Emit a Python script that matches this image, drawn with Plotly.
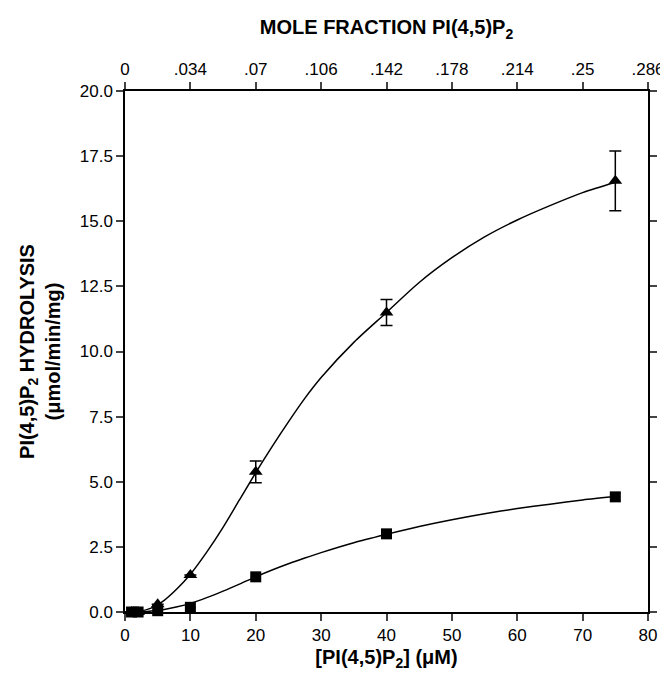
import plotly.graph_objects as go

# Measured data
conc = [1, 2, 5, 10, 20, 40, 75]
tri_vals = [0.0, 0.0, 0.3, 1.42, 5.38, 11.5, 16.55]
tri_err = [0, 0, 0, 0, 0.42, 0.5, 1.15]
sq_vals = [0.0, 0.0, 0.05, 0.18, 1.35, 3.0, 4.42]
sq_err = [0, 0, 0, 0, 0, 0, 0.15]

# Fitted curves
curve_x = [0, 2, 4, 6, 8, 10, 12.5, 15, 17.5, 20, 22.5, 25, 27.5, 30, 35, 40,
           45, 50, 55, 60, 65, 70, 75]
tri_curve = [0.0, 0.02, 0.15, 0.45, 0.9, 1.45, 2.3, 3.25, 4.3, 5.35, 6.35, 7.3,
             8.2, 9.0, 10.35, 11.5, 12.65, 13.6, 14.4, 15.05, 15.6, 16.1, 16.5]
sq_curve = [0.0, 0.0, 0.04, 0.1, 0.2, 0.33, 0.55, 0.8, 1.07, 1.35, 1.61, 1.85,
            2.07, 2.28, 2.66, 2.98, 3.28, 3.54, 3.77, 3.97, 4.14, 4.3, 4.43]

# Axis ticks
x_ticks = [0, 10, 20, 30, 40, 50, 60, 70, 80]
top_ticktext = ["0", ".034", ".07", ".106", ".142", ".178", ".214", ".25", ".286"]
y_ticks = [0, 2.5, 5, 7.5, 10, 12.5, 15, 17.5, 20]
y_ticktext = ["0.0", "2.5", "5.0", "7.5", "10.0", "12.5", "15.0", "17.5", "20.0"]

FONT = "Liberation Sans, Arial, sans-serif"
TICK = 17
TITLE = 20

fig = go.Figure()
fig.add_trace(go.Scatter(x=curve_x, y=tri_curve, mode="lines",
                         line=dict(color="black", width=1.5, shape="spline", smoothing=0.8),
                         showlegend=False, cliponaxis=False))
fig.add_trace(go.Scatter(x=curve_x, y=sq_curve, mode="lines",
                         line=dict(color="black", width=1.5, shape="spline", smoothing=0.8),
                         showlegend=False, cliponaxis=False))
fig.add_trace(go.Scatter(x=conc, y=tri_vals, mode="markers",
                         marker=dict(symbol="triangle-up", size=12, color="black"),
                         error_y=dict(type="data", array=tri_err, visible=True,
                                      color="black", thickness=1.5, width=6),
                         showlegend=False, cliponaxis=False))
fig.add_trace(go.Scatter(x=conc, y=sq_vals, mode="markers",
                         marker=dict(symbol="square", size=11, color="black"),
                         error_y=dict(type="data", array=sq_err, visible=True,
                                      color="black", thickness=1.5, width=5),
                         showlegend=False, cliponaxis=False))
# invisible trace to activate top axis
fig.add_trace(go.Scatter(x=[0], y=[0], xaxis="x2", mode="markers",
                         marker=dict(opacity=0), showlegend=False, hoverinfo="skip"))

fig.update_layout(
    width=660, height=663,
    margin=dict(l=117, r=20, t=83, b=59),
    paper_bgcolor="white", plot_bgcolor="white",
    font=dict(family=FONT, color="black", size=TICK),
    xaxis=dict(range=[0, 80], tickvals=x_ticks, ticks="outside", ticklen=7,
               tickwidth=1.5, showline=True, linewidth=1.5, linecolor="black",
               showgrid=False, zeroline=False, mirror=False, automargin=False,
               tickfont=dict(size=TICK),
               title=dict(text="<b>[PI(4,5)P<sub>2</sub>] (μM)</b>",
                          font=dict(size=TITLE), standoff=10)),
    xaxis2=dict(range=[0, 80], overlaying="x", side="top", tickvals=x_ticks,
                ticktext=top_ticktext, ticks="outside", ticklen=7, tickwidth=1.5,
                showline=True, linewidth=1.5, linecolor="black", showgrid=False,
                zeroline=False, automargin=False, tickfont=dict(size=TICK),
                title=dict(text="<b>MOLE FRACTION PI(4,5)P<sub>2</sub></b>",
                           font=dict(size=TITLE), standoff=20)),
    yaxis=dict(range=[0, 20], tickvals=y_ticks, ticktext=y_ticktext,
               ticks="outside", ticklen=7, tickwidth=1.5, showline=True,
               linewidth=1.5, linecolor="black", mirror="ticks", showgrid=False,
               zeroline=False, automargin=False, tickfont=dict(size=TICK),
               title=dict(text="<b>PI(4,5)P<sub>2</sub> HYDROLYSIS<br>(μmol/min/mg)</b>",
                          font=dict(size=TITLE), standoff=14)),
)

fig.write_html("out.html")
